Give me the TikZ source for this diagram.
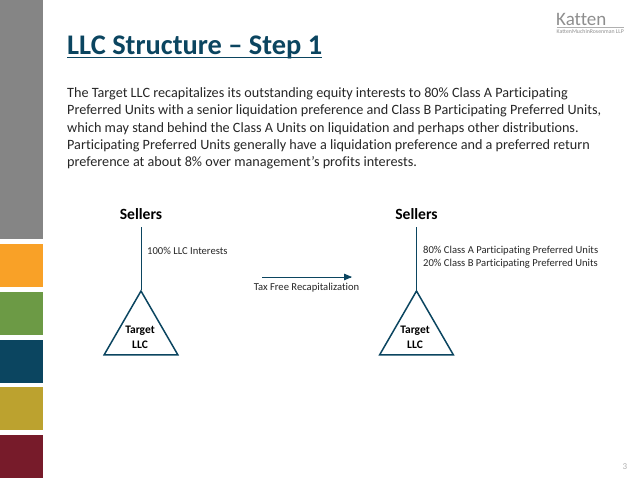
\documentclass[tikz,border=0pt]{standalone}
\usepackage{fontspec}
\setmainfont{Carlito}[Ligatures=NoCommon]
\usetikzlibrary{arrows,shapes.geometric,positioning}
\definecolor{navy}{HTML}{0B4560}
\definecolor{sidegray}{HTML}{858585}
\definecolor{sideorange}{HTML}{F9A127}
\definecolor{sidegreen}{HTML}{6C9A45}
\definecolor{sidegold}{HTML}{BCA22F}
\definecolor{sidemaroon}{HTML}{771B2A}
\definecolor{logogray}{HTML}{8E8E8E}
\definecolor{bodytext}{HTML}{262626}

\begin{document}
\begin{tikzpicture}[x=1pt,y=-1pt,>=triangle 45,
	SideBar/.style={rectangle,draw=none,minimum width=43pt,inner sep=0pt,anchor=north west},
	Title/.style={anchor=base west,inner sep=0pt,text=navy,font=\fontsize{28.4}{30}\selectfont\bfseries},
	Body/.style={anchor=north west,inner sep=0pt,align=left,text=bodytext,font=\fontsize{14.2}{17.3}\selectfont},
	Party/.style={inner sep=0pt,minimum height=26pt,text=black,font=\fontsize{15.6}{17}\selectfont\bfseries},
	Triangle/.style={regular polygon,regular polygon sides=3,draw=navy,line width=1.5pt,minimum size=85pt,inner sep=0pt},
	TriLabel/.style={inner sep=0pt,align=center,text=black,font=\fontsize{11.5}{15}\selectfont\bfseries},
	Note/.style={anchor=west,inner sep=0pt,align=left,text=bodytext,font=\fontsize{10.6}{12.8}\selectfont},
	Edge/.style={-,navy,line width=1pt},
	Move/.style={->,navy,line width=0.8pt},
]
	\useasboundingbox (0,0) rectangle (638,479);
	% side bars
	\node[SideBar,fill=sidegray,minimum height=239pt] (barA) at (0,0){};
	\node[SideBar,fill=sideorange,minimum height=43pt] (barB) at (0,244){};
	\node[SideBar,fill=sidegreen,minimum height=43pt] (barC) at (0,292){};
	\node[SideBar,fill=navy,minimum height=43pt] (barD) at (0,340){};
	\node[SideBar,fill=sidegold,minimum height=43pt] (barE) at (0,387){};
	\node[SideBar,fill=sidemaroon,minimum height=43pt] (barF) at (0,435){};
	
	% logo
	\node[anchor=south west,inner sep=0pt,text=logogray,font=\fontsize{19}{20}\selectfont] (logo) at (556,26){Katten};
	\node[anchor=north west,inner sep=0pt,text=logogray,font=\fontsize{5.8}{6}\selectfont] (firm) at (556.5,29){KattenMuchinRosenman LLP};
	\draw[logogray!70,line width=0.5pt] ([yshift=2pt]firm.north west) -- ([yshift=2pt]firm.north east);
	
	% heading
	\node[Title] (head) at (67,54){LLC Structure – Step 1};
	\draw[navy,line width=1.3pt] ([yshift=1pt]head.south west) -- ([yshift=1pt]head.south east);
	\node[Body] (text) at (67,87.5){The Target LLC recapitalizes its outstanding equity interests to 80\% Class A Participating\\
		Preferred Units with a senior liquidation preference and Class B Participating Preferred Units,\\
		which may stand behind the Class A Units on liquidation and perhaps other distributions.\\
		Participating Preferred Units generally have a liquidation preference and a preferred return\\
		preference at about 8\% over management’s profits interests.};
	
	% left structure
	\node[Party] (S1) at (141,214){Sellers};
	\node[Triangle] (T1) at (141,333.5){};
	\node[TriLabel] (L1) at (140,337){Target\\LLC};
	\path[Edge] (S1.south) edge (T1.corner 1);
	\node[Note] (N1) at (147,251){100\% LLC Interests};
	
	% recapitalization step
	\coordinate (M1) at (262,277);
	\coordinate (M2) at (352,277);
	\draw[Move] (M1) -- (M2);
	\node[Note,anchor=center] (N2) at (306.5,287.5){Tax Free Recapitalization};
	
	% right structure
	\node[Party] (S2) at (416.5,214){Sellers};
	\node[Triangle] (T2) at (416.5,333.5){};
	\node[TriLabel] (L2) at (415,337){Target\\LLC};
	\path[Edge] (S2.south) edge (T2.corner 1);
	\node[Note] (N3) at (423,257){80\% Class A Participating Preferred Units\\20\% Class B Participating Preferred Units};
	
	\node[inner sep=0pt,text=logogray!70,font=\fontsize{9}{10}\selectfont] (page) at (625,467){3};
\end{tikzpicture}
\end{document}
